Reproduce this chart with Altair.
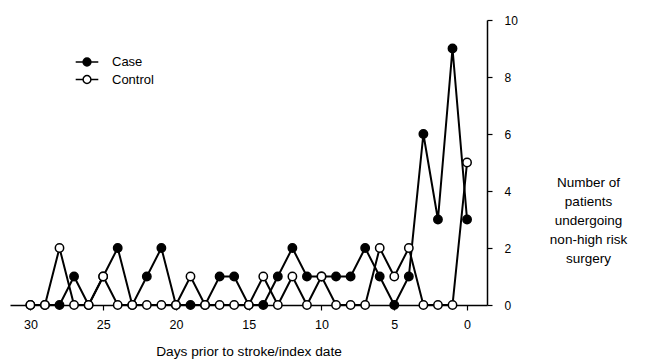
import altair as alt
import pandas as pd

days = list(range(30, -1, -1))
case_counts = [0, 0, 0, 1, 0, 1, 2, 0, 1, 2, 0, 0, 0, 1, 1, 0,
               0, 1, 2, 1, 1, 1, 1, 2, 1, 0, 1, 6, 3, 9, 3]
control_counts = [0, 0, 2, 0, 0, 1, 0, 0, 0, 0, 0, 1, 0, 0, 0, 0,
                  1, 0, 1, 0, 1, 0, 0, 0, 2, 1, 2, 0, 0, 0, 5]
groups = ["Case", "Control"]
x_ticks = [30, 25, 20, 15, 10, 5, 0]
y_ticks = [0, 2, 4, 6, 8, 10]

rows = []
for g, vals in zip(groups, [case_counts, control_counts]):
    for d, v in zip(days, vals):
        rows.append({"day": d, "count": v, "group": g})
df = pd.DataFrame(rows)

FONT = "Liberation Sans"

x = alt.X("day:Q",
          scale=alt.Scale(domain=[-1.37, 31.4], reverse=True, nice=False, zero=False),
          axis=alt.Axis(values=x_ticks, title="Days prior to stroke/index date",
                        grid=False, domainColor="black", domainWidth=1.5,
                        tickColor="black", tickSize=5, tickWidth=1.2,
                        labelFontSize=12.5, labelColor="black", labelPadding=8,
                        titleFontSize=13.7, titleFontWeight="normal", titleColor="black",
                        titlePadding=14))
y = alt.Y("count:Q",
          scale=alt.Scale(domain=[0, 10], nice=False),
          axis=alt.Axis(orient="right", values=y_ticks,
                        title=["Number of", "patients", "undergoing", "non-high risk", "surgery"],
                        grid=False, domainColor="black", domainWidth=1.5,
                        tickColor="black", tickSize=5, tickWidth=1.2,
                        labelFontSize=12, labelColor="black", labelPadding=12,
                        titleFontSize=13.5, titleFontWeight="normal", titleColor="black",
                        titleAngle=0, titleAlign="center", titleBaseline="top",
                        titleX=101, titleY=155, titleLineHeight=19))

lines = alt.Chart(df).mark_line(color="black", strokeWidth=2).encode(
    x=x, y=y, detail="group:N")

legend_shape = "M-1.45,0H-0.5 M0.5,0H1.45 M0.5,0A0.5,0.5 0 1,1 -0.5,0A0.5,0.5 0 1,1 0.5,0Z"

points = alt.Chart(df).mark_point(filled=False, stroke="black", strokeWidth=1.5,
                                  size=70, opacity=1, shape="circle").encode(
    x=x, y=y,
    fill=alt.Fill("group:N",
                  scale=alt.Scale(domain=groups, range=["black", "white"]),
                  legend=alt.Legend(title=None, orient="none", legendX=68, legendY=33,
                                    symbolType=legend_shape, symbolSize=243,
                                    symbolStrokeColor="black", symbolStrokeWidth=1.5,
                                    labelFontSize=13, labelColor="black",
                                    rowPadding=1.5, labelOffset=16)),
    order=alt.Order("group:N"))

chart = alt.layer(lines, points).properties(
    width=477, height=285,
    autosize=alt.AutoSizeParams(type="none"),
    padding={"left": 2, "top": 12, "right": 155, "bottom": 57},
).configure(font=FONT).configure_view(stroke=None)

chart.save("out.html", embed_options={"renderer": "svg", "actions": False})
